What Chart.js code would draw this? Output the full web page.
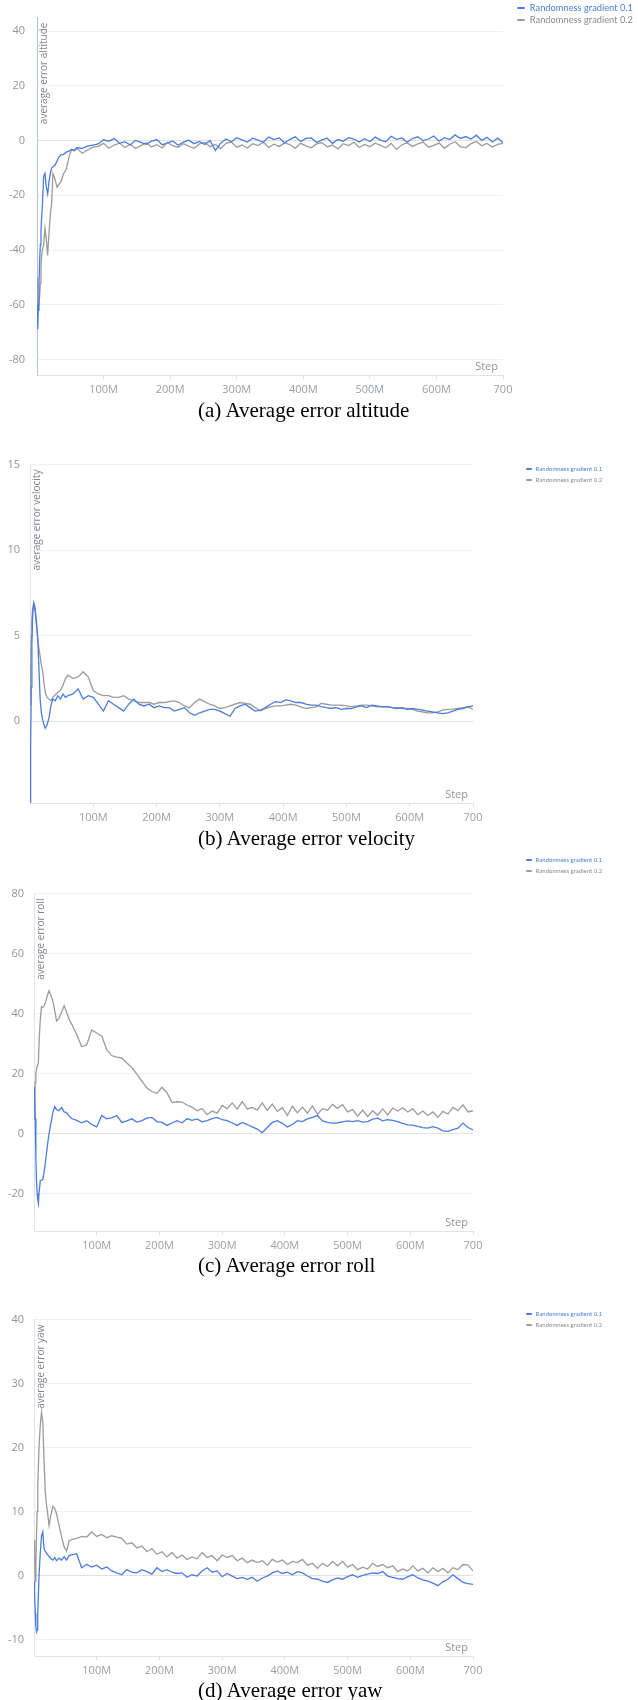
<!DOCTYPE html>
<html>
<head>
<meta charset="utf-8">
<script src="https://cdn.jsdelivr.net/npm/chart.js@4.4.1/dist/chart.umd.min.js"></script>
<style>
  body { margin: 0; background: #fff; }
  #page { position: relative; width: 638px; height: 1700px; overflow: hidden; background: #fff; }
  #page canvas { position: absolute; left: 0; }
  .legend { position: absolute; font-family: Lato, "Open Sans", sans-serif; white-space: nowrap; }
  .legend .row { position: absolute; left: 0; display: flex; align-items: center; }
  .legend .mark { display: inline-block; height: 2px; border-radius: 1px; }
  .caption { position: absolute; left: 198px; font-family: "Liberation Serif", "Times New Roman", serif; font-size: 21px; line-height: 24px; color: #000; white-space: nowrap; }
</style>
</head>
<body>
<div id="page"></div>
<script>
// Steps in millions (x axis)
const steps = [0,1,2,3,4,5,6,7,8,10,
  12,14,16,18,20,22,24,27,30,33,
  36,40,44,48,52,56,60,68,76,84,
  92,100,108,116,124,132,140,148,156,164,
  172,180,188,196,204,212,220,228,236,244,
  252,260,268,276,284,292,300,308,316,324,
  332,340,348,356,364,372,380,388,396,404,
  412,420,428,436,444,452,460,468,476,484,
  492,500,508,516,524,532,540,548,556,564,
  572,580,588,596,604,612,620,628,636,644,
  652,660,668,676,684,692,700];

const seriesNames = ['Randomness gradient 0.1', 'Randomness gradient 0.2'];
const xTicks = [100, 200, 300, 400, 500, 600, 700];

// (a) altitude
const altTicks = [-80, -60, -40, -20, 0, 20, 40];
const altBlue = [-60,-69,-62,-52,-44,-38,-33,-28,-24,-13,
  -12,-17,-19.5,-15,-12,-10,-9.5,-9,-7.5,-6,
  -5.2,-5,-4.2,-3.8,-3.2,-3.5,-2.6,-2.8,-2,-1.6,
  -1.2,0.3,-0.2,0.8,-1,-0.4,-1.6,0.1,-0.6,-1.3,
  -0.2,0.4,-1.5,-0.8,-0.1,-1.7,-0.5,0.2,-1.1,-0.3,
  -1.4,0.1,-3.6,-0.9,0.6,-0.4,1.1,0.3,-0.5,0.9,
  0.2,-0.6,1.3,0.4,1,-0.8,0.5,1.4,-0.3,0.8,
  1,-0.7,0.3,0.9,-1,0.4,-0.2,1.1,0.6,-0.5,
  0.7,-0.3,1.3,0.2,-0.4,1.6,0.5,1,-0.6,0.8,
  1.4,0,0.6,1.7,-0.2,1.1,0.4,2.1,0.8,1.5,
  0.6,2,0.1,1.2,-0.5,0.9,-0.7];
const altGray = [-50,-62,-60,-58,-57,-52,-46,-42,-40,-38,
  -32,-36,-42,-34,-27,-23,-12,-14,-17,-16,
  -15,-12,-10.5,-6,-3.2,-3.8,-2.9,-4.6,-3.4,-2.4,
  -2.1,-1,-2.8,-1.6,-0.9,-2.5,-1.3,-2.9,-1.8,-0.8,
  -2.3,-1.5,-2.7,-0.6,-1.9,-2.4,-1.1,-2,-2.8,-1.2,
  -0.7,-2.2,-1.4,-2.9,-1,-0.5,-2.4,-1.6,-2.7,-1.1,
  -1.8,-0.6,-2.5,-1.3,-2.1,-0.8,-1.5,-2.8,-1,-1.9,
  -2.6,-1.2,-0.7,-2.3,-1.6,-3,-1.1,-1.8,-0.6,-2.4,
  -1.4,-2.2,-0.9,-1.7,-2.6,-1,-3.2,-1.5,-0.8,-2.1,
  -1.2,-0.5,-2.4,-1.7,-0.9,-2.8,-1.3,-0.4,-2.2,-2.6,
  -1.1,-0.3,-1.9,-1,-2.3,-1.4,-1];

// (b) velocity
const velTicks = [0, 5, 10, 15];
const velBlue = [-4.8,-1.5,2,4.5,6,6.6,6.9,6.8,6.6,5.9,
  5,3.2,1.3,0.5,0.1,-0.2,-0.4,-0.2,0.2,0.9,
  1.3,1.2,1.5,1.3,1.6,1.4,1.5,1.6,1.9,1.3,
  1.5,1.4,1,0.6,1.2,1,0.8,0.6,1,1.3,
  1,0.9,1,0.8,0.9,0.8,0.8,0.6,0.7,0.8,
  0.5,0.35,0.5,0.6,0.7,0.7,0.6,0.45,0.3,0.75,
  0.9,1,0.8,0.6,0.65,0.8,1,1.15,1.1,1.25,
  1.2,1.1,1.1,1,0.95,0.95,0.86,0.8,0.75,0.8,
  0.7,0.75,0.75,0.85,0.9,0.8,0.95,0.9,0.85,0.86,
  0.8,0.75,0.8,0.7,0.75,0.7,0.65,0.6,0.55,0.5,
  0.45,0.5,0.6,0.7,0.75,0.85,0.9];
const velGray = [1,3,5,6,6.5,6.8,6.9,6.8,6.5,5.6,
  4.9,4.3,3.8,3.3,2.9,2.3,1.7,1.4,1.3,1.2,
  1.4,1.55,1.7,1.8,2.1,2.5,2.7,2.5,2.6,2.9,
  2.6,1.8,1.6,1.5,1.5,1.4,1.4,1.5,1.3,1.2,
  1.1,1.1,1.1,1,1.1,1.1,1.15,1.2,1.1,0.9,
  0.8,1.1,1.3,1.15,1,0.9,0.75,0.8,0.9,1,
  1.1,1.05,1,0.8,0.6,0.75,0.85,0.9,0.9,0.95,
  1,0.95,0.85,0.75,0.8,0.85,1.05,1,0.95,0.95,
  0.95,0.9,0.86,0.9,0.95,0.95,0.9,0.85,0.86,0.86,
  0.8,0.8,0.75,0.75,0.7,0.6,0.55,0.5,0.5,0.55,
  0.65,0.7,0.72,0.75,0.8,0.86,0.7];

// (c) roll
const rollTicks = [-20, 0, 20, 40, 60, 80];
const rollBlue = [15.4,15,5,-8,-16,-20,-22,-23.3,-20,-15.7,
  -15.5,-15.4,-13,-10,-6.5,-3,0,3.5,7,9,
  8,7.6,8.7,7.2,7,5.8,5,4.4,3.6,4.3,
  3,2.2,6,4.9,5.2,6,3.7,4.2,4.9,3.8,
  4.3,5.1,5.4,4,3.7,2.7,3.5,4.3,3.6,4.9,
  4.4,4.9,3.9,4.3,5,5.4,4.6,4.3,3.5,2.7,
  3.7,3,2.2,1.5,0.3,2,3.7,4.3,3.4,2.2,
  3,4.3,4,4.9,5.4,6,4.2,3.7,3.5,3.6,
  3.9,4.2,4,4.3,3.8,4,4.8,5.1,4.2,4.6,
  4.4,4,3.4,2.9,2.8,2.4,2,1.8,2.3,1.8,
  0.9,0.7,1.3,1.8,3.5,2,1.2];
const rollGray = [5,12,17,20,21.4,22.5,23,23.6,30,38,
  42.3,42,42.6,43.5,45,46.5,47.6,46,44.2,41,
  37.5,38.5,40.4,42.6,40.5,38,36.5,33,29,29.5,
  34.5,33.5,32.5,28,26,25.5,25.2,23.5,22,19.8,
  17.5,15.2,14,13.4,15.4,13.6,10.3,10.6,10.5,9.5,
  8.8,7.6,8.3,6.3,7.5,6.8,9.4,8.3,10.2,8.1,
  10.6,8.2,8.7,7.8,10.2,7.7,9.8,7.4,8.6,6,
  9.1,6.9,8.8,6.8,9.2,6.4,8.3,7.8,9.7,8.4,
  9.6,7.2,8,5.8,7.8,5.7,7.6,6.1,8.2,6.2,
  8.5,7.5,8.6,7.2,8.3,6.3,7.5,6,7.2,5.4,
  7.4,6.5,8.7,7.6,9.6,7.2,7.6];

// (d) yaw
const yawTicks = [-10, 0, 10, 20, 30, 40];
const yawBlue = [-0.9,-3,-6,-8,-8.8,-8.5,-6,-3,0,3.5,
  6.2,6.8,4.2,3.8,3.5,3.2,3,2.6,2.4,2.8,
  2.3,2.7,2.4,2.9,2.4,3.1,3.2,3.4,1.2,1.7,
  1.3,1.6,1,1.3,0.7,0.4,0.1,0.9,0.5,0.4,
  0.9,0.6,0.2,1.2,0.6,0.9,0.5,0.3,0.4,-0.3,
  0.1,-0.1,0.7,1.2,0.5,0.7,-0.2,0.3,-0.1,-0.5,
  -0.3,-0.6,-0.3,-0.9,-0.4,-0.1,0.4,0.7,0.3,0.5,
  0.1,0.6,0.4,-0.1,-0.5,-0.6,-0.9,-1.1,-0.7,-0.4,
  -0.6,-0.2,0.1,-0.3,0,0.2,0.4,0.3,0.6,-0.1,
  -0.3,-0.5,-0.6,-0.2,0.1,-0.4,-0.7,-0.9,-1.2,-1.6,
  -1,-0.6,0.1,-0.5,-1.1,-1.3,-1.4];
const yawGray = [5.5,2,-0.9,2,6,10,14,17,20,23.5,
  25.5,24,18,13,11,9.5,7.8,9.5,10.8,10.5,
  9.6,7.8,6,4.5,3.8,5.4,5.6,5.8,6.1,6,
  6.8,6.1,6.4,5.9,6.2,6,5.8,4.9,5.1,4.3,
  4.6,3.7,4.2,3.3,3.7,2.9,3.6,2.7,3.2,2.5,
  2.9,2.6,3.6,2.8,3.1,2.3,3.2,2.8,3.1,2.3,
  2.7,2,2.4,2,2.3,1.6,2.5,2.1,2.4,1.7,
  2.2,2,2.5,1.6,1.9,1.1,1.9,1.4,2.2,1.5,
  2.2,1.3,1.7,0.9,1.3,1,1.9,1.4,1.7,1.2,
  1.5,0.6,1,0.7,1.5,0.7,1.1,0.4,1.2,0.6,
  1.1,0.4,1.2,0.9,1.7,1.6,0.7];

const BLUE = '#4a7ddd';
const GRAY = '#9b9b9b';
const TICK_COLOR = '#8f949b';

const panels = [
  { title: 'average error altitude', caption: '(a) Average error altitude', blue: altBlue, gray: altGray,
    yTicks: altTicks, yMin: -85.7, yMax: 45, box: { left: 37, top: 9, right: 503, bottom: 375 },
    axisColor: '#b7c3de', tickPad: 12, legend: { x: 517, y: 8, gap: 12, size: 9.3, mark: 8 }, captionY: 410 },
  { title: 'average error velocity', caption: '(b) Average error velocity', blue: velBlue, gray: velGray,
    yTicks: velTicks, yMin: -4.77, yMax: 15, box: { left: 30, top: 458, right: 473, bottom: 803 },
    axisColor: '#dfe3ea', tickPad: 10, legend: { x: 526, y: 469, gap: 11, size: 6, mark: 6 }, captionY: 838 },
  { title: 'average error roll', caption: '(c) Average error roll', blue: rollBlue, gray: rollGray,
    yTicks: rollTicks, yMin: -32.5, yMax: 80, box: { left: 34, top: 887, right: 473, bottom: 1231 },
    axisColor: '#dfe3ea', tickPad: 10, legend: { x: 526, y: 860, gap: 11, size: 6, mark: 6 }, captionY: 1265 },
  { title: 'average error yaw', caption: '(d) Average error yaw', blue: yawBlue, gray: yawGray,
    yTicks: yawTicks, yMin: -12.6, yMax: 40, box: { left: 34, top: 1313, right: 473, bottom: 1656 },
    axisColor: '#dfe3ea', tickPad: 10, legend: { x: 526, y: 1314, gap: 11, size: 6, mark: 6 }, captionY: 1690 }
];

// Draws the in-plot y title and the "Step" label
const panelText = {
  id: 'panelText',
  afterDraw(chart, args, opts) {
    const { ctx, chartArea } = chart;
    ctx.save();
    ctx.fillStyle = TICK_COLOR;
    ctx.font = '11px "Open Sans"';
    ctx.textAlign = 'right';
    ctx.textBaseline = 'middle';
    ctx.fillText('Step', chartArea.right - 5, chartArea.bottom - 8);
    ctx.fillStyle = '#80858c';
    ctx.translate(chartArea.left + 7, chartArea.top + 5);
    ctx.rotate(-Math.PI / 2);
    ctx.font = '10px "Open Sans"';
    ctx.fillText(opts.title, 0, 0);
    ctx.restore();
  }
};

const page = document.getElementById('page');

function makePanel(p) {
  const X_AXIS_H = 34;
  const canvas = document.createElement('canvas');
  const h = p.box.bottom - p.box.top + 10 + X_AXIS_H;
  canvas.width = 638;
  canvas.height = h;
  canvas.style.width = '638px';
  canvas.style.height = h + 'px';
  canvas.style.top = (p.box.top - 10) + 'px';
  page.appendChild(canvas);

  new Chart(canvas.getContext('2d'), {
    type: 'line',
    data: {
      labels: steps,
      datasets: [
        { label: seriesNames[0], data: steps.map((s, i) => ({ x: s, y: p.blue[i] })),
          borderColor: BLUE, borderWidth: 1.3, pointRadius: 0, tension: 0 },
        { label: seriesNames[1], data: steps.map((s, i) => ({ x: s, y: p.gray[i] })),
          borderColor: GRAY, borderWidth: 1.3, pointRadius: 0, tension: 0 }
      ]
    },
    options: {
      responsive: false,
      animation: false,
      devicePixelRatio: 1,
      layout: { padding: { top: 10, left: 0, right: 638 - p.box.right, bottom: 0 } },
      plugins: { legend: { display: false }, tooltip: { enabled: false }, panelText: { title: p.title } },
      scales: {
        x: {
          type: 'linear', min: 0, max: 700,
          afterBuildTicks: s => { s.ticks = xTicks.map(v => ({ value: v })); },
          afterFit: s => { s.height = X_AXIS_H; },
          ticks: { callback: v => v === 700 ? '700' : v + 'M', color: '#9a9fa6',
            font: { family: 'Open Sans', size: 11 }, padding: 4, maxRotation: 0, autoSkip: false },
          grid: { drawOnChartArea: false, drawTicks: true, tickLength: 4, color: '#e3e3e3' },
          border: { color: '#e3e3e3' }
        },
        y: {
          min: p.yMin, max: p.yMax,
          afterBuildTicks: s => { s.ticks = p.yTicks.map(v => ({ value: v })); },
          afterFit: s => { s.width = p.box.left; },
          ticks: { color: TICK_COLOR, font: { family: 'Open Sans', size: 11 }, padding: p.tickPad },
          grid: { color: c => (c.tick && c.tick.value === 0) ? '#e2e2e2' : '#f1f1f1', drawTicks: false },
          border: { color: p.axisColor }
        }
      }
    },
    plugins: [panelText]
  });

  // HTML legend
  const lg = document.createElement('div');
  lg.className = 'legend';
  lg.style.left = p.legend.x + 'px';
  lg.style.top = '0px';
  [BLUE, GRAY].forEach((col, i) => {
    const row = document.createElement('div');
    row.className = 'row';
    row.style.top = (p.legend.y + i * p.legend.gap - p.legend.size * 0.7) + 'px';
    row.style.fontSize = p.legend.size + 'px';
    row.style.lineHeight = (p.legend.size * 1.4) + 'px';
    row.style.color = i === 0 ? BLUE : '#8a8a8a';
    row.innerHTML = `<span class="mark" style="width:${p.legend.mark}px;background:${col};margin-right:${p.legend.mark * 0.6}px"></span>${seriesNames[i]}`;
    lg.appendChild(row);
  });
  page.appendChild(lg);

  const cap = document.createElement('div');
  cap.className = 'caption';
  cap.style.top = (p.captionY - 12) + 'px';
  cap.textContent = p.caption;
  page.appendChild(cap);
}

panels.forEach(makePanel);
</script>
</body>
</html>
